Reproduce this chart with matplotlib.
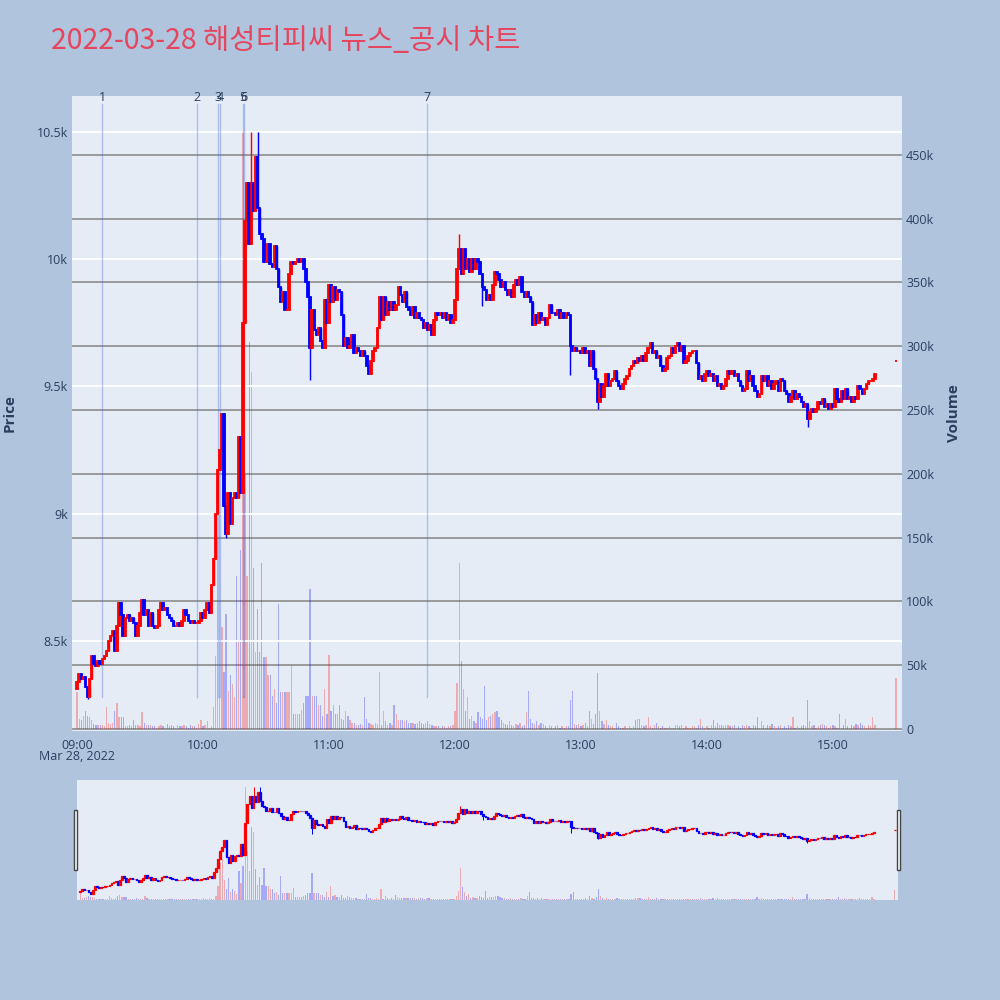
import numpy as np
import matplotlib.pyplot as plt
from matplotlib.patches import Rectangle
import matplotlib.transforms as mtransforms

plt.rcParams['font.family'] = ['Open Sans', 'Noto Sans CJK KR', 'DejaVu Sans']

title = "2022-03-28 해성티피씨 뉴스_공시 차트"

# one close per minute, 09:00 .. 15:20
first_open = 8310
close_prices = [
    8340, 8370, 8350, 8360, 8320, 8280, 8350, 8440, 8410, 8400,
    8420, 8410, 8430, 8440, 8460, 8500, 8520, 8540, 8460, 8560,
    8650, 8600, 8520, 8590, 8600, 8580, 8590, 8570, 8520, 8560,
    8610, 8660, 8600, 8620, 8560, 8610, 8560, 8550, 8560, 8620,
    8650, 8620, 8630, 8600, 8590, 8580, 8560, 8560, 8570, 8560,
    8580, 8620, 8600, 8580, 8570, 8580, 8570, 8570, 8580, 8610,
    8590, 8620, 8650, 8610, 8720, 8820, 9000, 9170, 9250, 9390,
    9030, 8920, 9080, 8960, 9060, 9080, 9060, 9300, 9080, 9750,
    10150, 10300, 10060, 10300, 10190, 10400, 10200, 10100, 10080, 9990,
    9990, 10060, 9980, 9970, 10050, 9960, 9890, 9830, 9870, 9800,
    9800, 9940, 9990, 9980, 9990, 10000, 9990, 10000, 9960, 9910,
    9850, 9650, 9800, 9720, 9700, 9730, 9680, 9650, 9840, 9750,
    9900, 9830, 9890, 9840, 9880, 9870, 9780, 9660, 9690, 9650,
    9660, 9700, 9630, 9650, 9640, 9620, 9640, 9620, 9580, 9550,
    9600, 9640, 9650, 9730, 9850, 9760, 9850, 9780, 9830, 9800,
    9830, 9800, 9820, 9890, 9860, 9830, 9870, 9810, 9800, 9780,
    9810, 9770, 9790, 9770, 9760, 9730, 9750, 9720, 9740, 9700,
    9760, 9790, 9780, 9790, 9770, 9790, 9760, 9780, 9750, 9760,
    9840, 9960, 10040, 9940, 10040, 9960, 10000, 9950, 10000, 9960,
    10000, 9990, 9940, 9890, 9880, 9840, 9860, 9840, 9900, 9950,
    9940, 9920, 9890, 9910, 9880, 9860, 9880, 9850, 9900, 9920,
    9900, 9930, 9870, 9850, 9870, 9850, 9830, 9740, 9780, 9750,
    9790, 9760, 9770, 9740, 9770, 9820, 9790, 9790, 9780, 9800,
    9770, 9790, 9770, 9790, 9780, 9660, 9640, 9650, 9640, 9640,
    9630, 9650, 9630, 9640, 9580, 9640, 9570, 9530, 9440, 9510,
    9460, 9500, 9550, 9500, 9520, 9530, 9560, 9520, 9500, 9490,
    9510, 9530, 9540, 9570, 9580, 9600, 9590, 9610, 9600, 9620,
    9600, 9630, 9650, 9670, 9630, 9640, 9610, 9620, 9580, 9560,
    9570, 9610, 9620, 9650, 9630, 9660, 9670, 9640, 9660, 9590,
    9600, 9620, 9630, 9640, 9640, 9590, 9530, 9540, 9520, 9550,
    9560, 9540, 9550, 9520, 9540, 9500, 9510, 9490, 9500, 9530,
    9560, 9550, 9560, 9540, 9550, 9520, 9500, 9480, 9490, 9560,
    9520, 9540, 9500, 9480, 9460, 9470, 9540, 9520, 9540, 9500,
    9520, 9490, 9510, 9520, 9480, 9530, 9520, 9480, 9470, 9440,
    9460, 9480, 9450, 9470, 9460, 9440, 9420, 9430, 9370, 9400,
    9410, 9400, 9410, 9440, 9430, 9450, 9420, 9430, 9410, 9430,
    9420, 9490, 9450, 9440, 9480, 9450, 9490, 9450, 9460, 9440,
    9460, 9450, 9500, 9490, 9470, 9490, 9510, 9520, 9520, 9530, 9550,
]

# volume per minute, thousands of shares
volumes_k = [
    29, 8, 7, 10, 14, 10, 9, 7, 4, 3,
    3, 3, 3, 2, 17, 5, 4, 5, 14, 20,
    9, 9, 9, 2, 2, 3, 2, 7, 3, 3,
    2, 13, 5, 3, 3, 3, 2, 2, 1, 2,
    3, 2, 1, 4, 2, 3, 2, 1, 3, 2,
    2, 3, 2, 1, 3, 2, 2, 1, 4, 7,
    2, 3, 6, 1, 2, 17, 57, 150, 170, 80,
    45, 90, 30, 42, 35, 25, 120, 70, 140, 468,
    200, 120, 303, 280, 126, 60, 94, 60, 130, 56,
    56, 42, 42, 26, 31, 20, 98, 29, 29, 29,
    29, 29, 50, 12, 12, 12, 12, 15, 20, 26,
    26, 110, 26, 26, 26, 19, 19, 10, 31, 12,
    58, 14, 19, 12, 12, 19, 8, 7, 14, 10,
    7, 5, 5, 3, 3, 4, 3, 25, 8, 5,
    4, 3, 5, 4, 45, 3, 14, 6, 3, 5,
    3, 19, 12, 7, 7, 7, 6, 7, 5, 5,
    5, 4, 5, 6, 5, 4, 5, 6, 4, 3,
    2, 2, 2, 1, 2, 2, 1, 2, 2, 3,
    14, 36, 130, 53, 31, 14, 25, 8, 10, 6,
    5, 13, 9, 8, 34, 7, 9, 10, 12, 13,
    14, 9, 7, 5, 4, 3, 6, 3, 2, 4,
    3, 5, 2, 3, 13, 30, 8, 5, 4, 6,
    3, 5, 4, 2, 1, 3, 2, 1, 2, 3,
    1, 2, 1, 2, 2, 23, 30, 4, 3, 4,
    2, 3, 5, 2, 14, 8, 4, 12, 44, 14,
    6, 4, 7, 3, 2, 2, 1, 5, 2, 1,
    1, 2, 1, 2, 1, 2, 7, 8, 8, 3,
    2, 3, 9, 2, 1, 3, 5, 2, 1, 2,
    1, 1, 2, 1, 1, 3, 3, 2, 3, 1,
    2, 1, 1, 2, 2, 1, 3, 8, 2, 1,
    2, 1, 3, 7, 2, 5, 3, 3, 2, 3,
    3, 2, 2, 3, 1, 2, 1, 3, 2, 3,
    2, 1, 3, 2, 9, 1, 6, 3, 1, 3,
    2, 4, 2, 1, 2, 3, 1, 2, 1, 3,
    2, 9, 1, 2, 1, 2, 3, 2, 23, 6,
    2, 3, 1, 2, 3, 4, 3, 2, 1, 2,
    3, 2, 1, 12, 1, 3, 8, 2, 1, 3,
    2, 4, 3, 5, 3, 2, 1, 3, 2, 9, 3,
]

# closing auction at 15:30
auction_minute = 390
auction_price = 9600
auction_volume_k = 40

wick_high_minutes = [67, 83, 86, 182]
wick_highs = [9180, 10500, 10500, 10100]
wick_low_minutes = [5, 71, 111, 193, 235, 248, 348]
wick_lows = [8270, 8905, 9525, 9815, 9545, 9410, 9340]

news_labels = ["1", "2", "3", "4", "5", "6", "7"]
news_minutes = [12, 57, 67, 68, 79, 79.6, 166.5]

hour_labels = ["09:00", "10:00", "11:00", "12:00", "13:00", "14:00", "15:00"]
price_ticks = [8500, 9000, 9500, 10000, 10500]
price_tick_labels = ["8.5k", "9k", "9.5k", "10k", "10.5k"]
volume_ticks_k = [0, 50, 100, 150, 200, 250, 300, 350, 400, 450]

# ---- assemble candles ----
closes = np.array(close_prices + [auction_price], dtype=float)
opens = np.array([first_open] + close_prices[:-1] + [auction_price], dtype=float)
minutes = np.append(np.arange(len(close_prices)), auction_minute)
volumes = np.array(volumes_k + [auction_volume_k], dtype=float) * 1000
highs = np.maximum(opens, closes)
lows = np.minimum(opens, closes)
for m, h in zip(wick_high_minutes, wick_highs):
    highs[m] = max(highs[m], h)
for m, l in zip(wick_low_minutes, wick_lows):
    lows[m] = min(lows[m], l)

up = closes >= opens
candle_colors = np.where(up, "#ff0000", "#0000ff")
vol_colors = [(1, 0, 0, 0.28) if u else (0, 0, 1, 0.28) for u in up]

PAPER = "#b0c4de"
PLOT_BG = "#e5ecf6"
TXT = "#2a3f5f"
PRICE_LIM = (8146, 10641)
VOL_LIM = (-1600, 496000)


def draw_candles(ax, body_w, lw):
    ax.vlines(minutes, lows, highs, colors=candle_colors, linewidth=lw * 0.8, zorder=3)
    ax.bar(minutes, closes - opens, bottom=opens, width=body_w,
           color=candle_colors, edgecolor=candle_colors, linewidth=lw, zorder=3)


fig = plt.figure(figsize=(10, 10), dpi=100, facecolor=PAPER)

# ---- main panel ----
ax = fig.add_axes([0.072, 0.269, 0.830, 0.635])
axv = ax.twinx()
ax.set_zorder(axv.get_zorder() + 1)
ax.patch.set_visible(False)
axv.patch.set_visible(True)
axv.set_facecolor(PLOT_BG)

axv.bar(minutes, volumes, width=0.6, color=vol_colors, linewidth=0)
axv.set_ylim(*VOL_LIM)
axv.set_yticks([v * 1000 for v in volume_ticks_k])
axv.set_yticklabels(["0"] + [f"{v}k" for v in volume_ticks_k[1:]])
axv.grid(axis="y", color="#8c8c8c", linewidth=1.2)
axv.set_axisbelow(True)

draw_candles(ax, 0.7, 1.3)
ax.set_ylim(*PRICE_LIM)
ax.set_xlim(-2.4, 392.9)
ax.set_yticks(price_ticks)
ax.set_yticklabels(price_tick_labels)
ax.grid(axis="y", color="white", linewidth=1.3)
ax.set_axisbelow(True)
ax.set_xticks([60 * i for i in range(len(hour_labels))])
ax.set_xticklabels(hour_labels)

for a in (ax, axv):
    for s in a.spines.values():
        s.set_visible(False)
    a.tick_params(length=0, labelsize=9, labelcolor=TXT)
ax.tick_params(axis="x", pad=6)
ax.tick_params(axis="y", pad=3)
axv.tick_params(axis="y", pad=3)

# news markers
trans = mtransforms.blended_transform_factory(ax.transData, ax.transAxes)
for lab, m in zip(news_labels, news_minutes):
    ax.axvline(m, ymin=0.054, ymax=0.987, color="#4169e1", alpha=0.35, linewidth=1, zorder=2)
    ax.text(m, 0.998, lab, transform=trans, ha="center", va="center", fontsize=9, color=TXT)

fig.text(0.077, 0.243, "Mar 28, 2022", ha="center", va="center", fontsize=9, color=TXT)
fig.text(0.010, 0.587, "Price", rotation=90, ha="center", va="center",
         fontsize=11, fontweight="bold", color=TXT)
fig.text(0.954, 0.587, "Volume", rotation=90, ha="center", va="center",
         fontsize=11, fontweight="bold", color=TXT)
fig.text(0.051, 0.959, title, ha="left", va="center", fontsize=20.5,
         color="#e6455e", family=["Noto Sans CJK KR", "DejaVu Sans"])

# ---- range slider ----
axs = fig.add_axes([0.077, 0.100, 0.821, 0.120])
axsv = axs.twinx()
axs.set_zorder(axsv.get_zorder() + 1)
axs.patch.set_visible(False)
axsv.patch.set_visible(True)
axsv.set_facecolor(PLOT_BG)
axsv.bar(minutes, volumes, width=0.6, color=vol_colors, linewidth=0)
axsv.set_ylim(*VOL_LIM)
draw_candles(axs, 0.8, 0.9)
axs.set_ylim(*PRICE_LIM)
axs.set_xlim(-1.5, 391.5)
for a in (axs, axsv):
    a.set_xticks([])
    a.set_yticks([])
    for s in a.spines.values():
        s.set_visible(False)

for x0 in (0.0735, 0.8965):
    fig.patches.append(Rectangle((x0, 0.130), 0.0035, 0.060, transform=fig.transFigure,
                                 facecolor="white", edgecolor="#444444", linewidth=1))

fig.savefig("out.png", dpi=100, facecolor=PAPER)
